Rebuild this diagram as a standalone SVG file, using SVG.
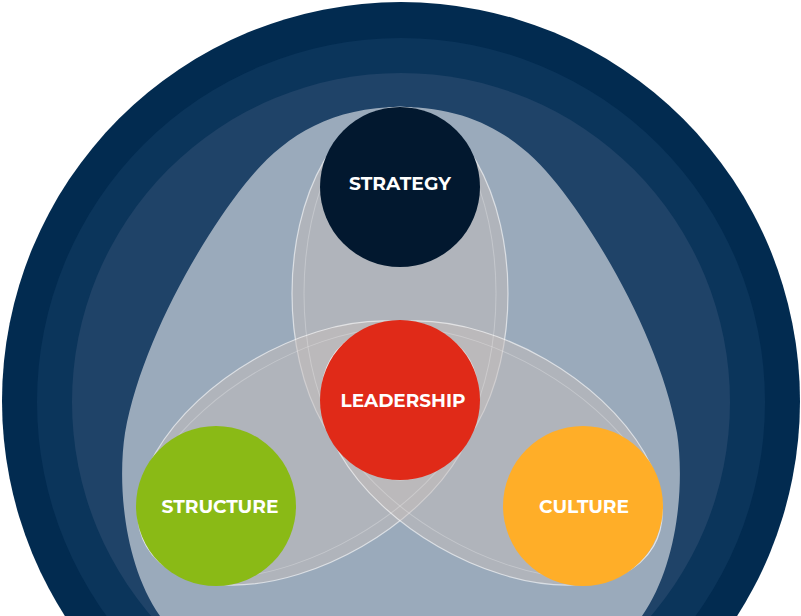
<svg xmlns="http://www.w3.org/2000/svg" width="801" height="616" viewBox="0 0 801 616">
  <style>
    .lens { fill: #c6bebc; fill-opacity: 0.5; stroke: #ffffff; stroke-opacity: 0.6; stroke-width: 1.2; }
    .inner { fill: none; stroke: #ffffff; stroke-opacity: 0.25; stroke-width: 1; }
    .label { font-family: "Montserrat", "Inter", "Open Sans", "Liberation Sans", sans-serif; font-weight: 700; font-size: 18px; fill: #ffffff; text-anchor: middle; }
  </style>
  <rect width="801" height="616" fill="#ffffff"/>
  <g id="rings">
    <circle cx="401" cy="401" r="399" fill="#022b50"/>
    <circle cx="401" cy="402" r="364" fill="#0b355b"/>
    <circle cx="401" cy="402" r="329" fill="#1f4368"/>
    <path d="M401,107 C476,107 522,140 557,184 C606,246 662,348 677,433 C685,485 678,572 636,624 C610,670 480,700 401,700 C322,700 192,670 166,624 C124,572 117,485 125,433 C140,348 196,246 245,184 C280,140 326,107 401,107 Z" fill="#9aaabb"/>
  </g>
  <g id="connectors">
    <ellipse class="lens" cx="400" cy="293.5" rx="108" ry="186.5"/>
    <ellipse class="lens" cx="308" cy="453" rx="186.5" ry="108" transform="rotate(-30 308 453)"/>
    <ellipse class="lens" cx="492" cy="453" rx="186.5" ry="108" transform="rotate(30 492 453)"/>
    <ellipse class="inner" cx="400" cy="293.5" rx="96" ry="186.5"/>
    <ellipse class="inner" cx="308" cy="453" rx="186.5" ry="96" transform="rotate(-30 308 453)"/>
    <ellipse class="inner" cx="492" cy="453" rx="186.5" ry="96" transform="rotate(30 492 453)"/>
  </g>
  <g id="strategy">
    <circle cx="400" cy="187" r="80" fill="#02182f"/>
    <text class="label" x="400" y="190" textLength="102" lengthAdjust="spacingAndGlyphs">STRATEGY</text>
  </g>
  <g id="leadership">
    <circle cx="400" cy="400" r="80" fill="#e02a18"/>
    <text class="label" x="403" y="407" textLength="125" lengthAdjust="spacingAndGlyphs">LEADERSHIP</text>
  </g>
  <g id="structure">
    <circle cx="216" cy="506" r="80" fill="#8aba16"/>
    <text class="label" x="220" y="513" textLength="117" lengthAdjust="spacingAndGlyphs">STRUCTURE</text>
  </g>
  <g id="culture">
    <circle cx="583" cy="506" r="80" fill="#ffae28"/>
    <text class="label" x="584" y="513" textLength="90" lengthAdjust="spacingAndGlyphs">CULTURE</text>
  </g>
</svg>
